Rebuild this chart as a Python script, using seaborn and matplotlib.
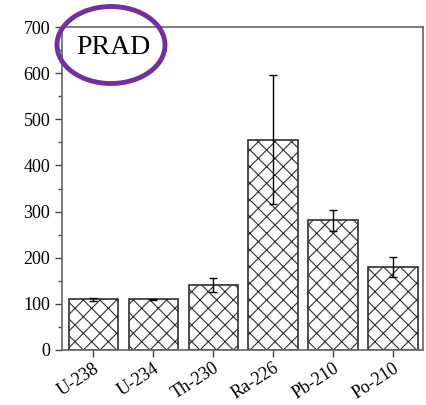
import matplotlib
matplotlib.use("Agg")
import matplotlib.pyplot as plt
import seaborn as sns
import numpy as np
from matplotlib.patches import Ellipse
from matplotlib.ticker import MultipleLocator

categories = ["U-238", "U-234", "Th-230", "Ra-226", "Pb-210", "Po-210"]
values = [110, 110, 141, 456, 281, 180]
errors = [3, 1, 16, 140, 23, 22]
label = "PRAD"

sns.set_theme(style="ticks")
plt.rcParams['font.family'] = ['Liberation Serif', 'DejaVu Serif']
plt.rcParams['hatch.color'] = '#606060'
plt.rcParams['hatch.linewidth'] = 0.8

fig = plt.figure(figsize=(4.26, 4.05), dpi=100)
ax = fig.add_axes([62/426, 1-350/405, (423-62)/426, (350-27)/405])

sns.barplot(x=categories, y=values, ax=ax, color="white", edgecolor="#303030",
            linewidth=1.2, width=0.82, hatch="xx", errorbar=None)
ax.errorbar(np.arange(len(categories)), values, yerr=errors, fmt="none",
            ecolor="black", elinewidth=1, capsize=3, capthick=1)

ax.set_xlim(-0.52, 5.5)
ax.set_ylim(0, 700)
ax.yaxis.set_major_locator(MultipleLocator(100))
ax.yaxis.set_minor_locator(MultipleLocator(50))
for s in ax.spines.values():
    s.set_color("#666666")
    s.set_linewidth(1.2)
ax.tick_params(axis="both", which="major", direction="out", length=5, width=1,
               color="#444444", labelsize=13, labelcolor="black")
ax.tick_params(axis="y", which="minor", direction="out", length=3, width=1, color="#444444")
ax.tick_params(axis="x", pad=2)
plt.setp(ax.get_xticklabels(), rotation=33, ha="right", rotation_mode="anchor")
ax.set_xlabel("")
ax.set_ylabel("")

fig.text(113/426, 1-48/405, label, fontsize=20, ha="center", va="center", color="black")
ell = Ellipse((111/426, 1-45/405), 108/426, 77/405, transform=fig.transFigure,
              fill=False, edgecolor="#7030A0", linewidth=3.5, clip_on=False)
fig.add_artist(ell)

fig.savefig("out.png", dpi=100)
